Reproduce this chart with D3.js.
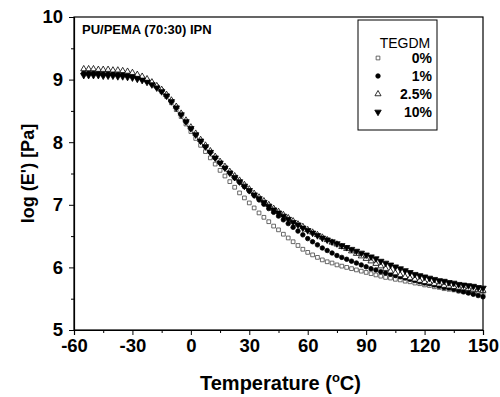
<!DOCTYPE html>
<html>
<head>
<meta charset="utf-8">
<script src="https://cdn.jsdelivr.net/npm/d3@7"></script>
<style>
  html, body { margin: 0; padding: 0; background: #fff; }
  svg { display: block; font-family: "Liberation Sans", Arial, sans-serif; }
</style>
</head>
<body>
<svg id="chart" width="500" height="397"></svg>
<script>
// Storage modulus of PU/PEMA (70:30) IPN vs temperature, for four TEGDM contents.
const temperatures = d3.range(0, 83).map(i => -55 + i * 2.5);

const seriesNames = ["0%", "1%", "2.5%", "10%"];

const logE_0 = [
  9.12, 9.12, 9.12, 9.11, 9.11, 9.11, 9.10, 9.10, 9.09, 9.08, 9.07, 9.05, 9.02, 8.98, 8.93, 8.88, 8.81, 8.73, 8.63, 8.52, 8.41, 8.29,
  8.17, 8.06, 7.95, 7.85, 7.75, 7.65, 7.55, 7.46, 7.37, 7.28, 7.19, 7.11, 7.03, 6.95, 6.87, 6.80, 6.73, 6.66, 6.60, 6.53,
  6.47, 6.41, 6.35, 6.29, 6.24, 6.20, 6.16, 6.12, 6.09, 6.07, 6.04, 6.02, 6.00, 5.98, 5.96, 5.94, 5.92, 5.90, 5.88, 5.86,
  5.84, 5.83, 5.81, 5.80, 5.78, 5.77, 5.75, 5.74, 5.72, 5.71, 5.69, 5.68, 5.66, 5.65, 5.64, 5.62, 5.61, 5.60, 5.59, 5.58, 5.57
];
const logE_1 = [
  9.10, 9.10, 9.10, 9.10, 9.09, 9.09, 9.09, 9.08, 9.08, 9.07, 9.06, 9.04, 9.01, 8.98, 8.94, 8.89, 8.83, 8.75, 8.66, 8.56, 8.45, 8.33,
  8.22, 8.12, 8.02, 7.93, 7.84, 7.75, 7.67, 7.59, 7.51, 7.43, 7.36, 7.29, 7.22, 7.15, 7.08, 7.01, 6.94, 6.88, 6.82, 6.76,
  6.70, 6.64, 6.58, 6.52, 6.46, 6.41, 6.36, 6.31, 6.27, 6.23, 6.19, 6.16, 6.13, 6.10, 6.07, 6.04, 6.01, 5.98, 5.96, 5.93,
  5.91, 5.89, 5.87, 5.85, 5.83, 5.81, 5.79, 5.77, 5.75, 5.74, 5.72, 5.70, 5.68, 5.67, 5.65, 5.63, 5.61, 5.59, 5.57, 5.55, 5.53
];
const logE_25 = [
  9.17, 9.17, 9.17, 9.16, 9.16, 9.16, 9.15, 9.15, 9.14, 9.13, 9.11, 9.08, 9.05, 9.01, 8.96, 8.90, 8.84, 8.76, 8.67, 8.57, 8.46, 8.35,
  8.24, 8.14, 8.04, 7.95, 7.86, 7.77, 7.69, 7.61, 7.53, 7.46, 7.39, 7.32, 7.25, 7.18, 7.12, 7.06, 7.00, 6.94, 6.89, 6.84,
  6.79, 6.74, 6.69, 6.65, 6.60, 6.56, 6.52, 6.48, 6.44, 6.40, 6.37, 6.33, 6.30, 6.26, 6.22, 6.18, 6.14, 6.10, 6.06, 6.02,
  5.98, 5.94, 5.91, 5.88, 5.85, 5.83, 5.81, 5.79, 5.77, 5.76, 5.74, 5.73, 5.71, 5.70, 5.69, 5.68, 5.67, 5.66, 5.65, 5.64, 5.63
];
const logE_10 = [
  9.07, 9.07, 9.07, 9.07, 9.06, 9.06, 9.06, 9.05, 9.05, 9.04, 9.03, 9.01, 8.99, 8.96, 8.92, 8.87, 8.81, 8.74, 8.65, 8.55, 8.44, 8.33,
  8.22, 8.12, 8.02, 7.93, 7.84, 7.75, 7.67, 7.59, 7.51, 7.44, 7.37, 7.30, 7.23, 7.16, 7.10, 7.04, 6.98, 6.92, 6.87, 6.82,
  6.77, 6.72, 6.68, 6.63, 6.59, 6.55, 6.51, 6.47, 6.44, 6.41, 6.38, 6.35, 6.32, 6.29, 6.26, 6.23, 6.20, 6.17, 6.14, 6.10,
  6.07, 6.04, 6.01, 5.98, 5.95, 5.92, 5.89, 5.87, 5.85, 5.83, 5.81, 5.79, 5.78, 5.76, 5.75, 5.73, 5.72, 5.71, 5.70, 5.68, 5.67
];

const xTicks = [-60, -30, 0, 30, 60, 90, 120, 150];
const yTicks = [5, 6, 7, 8, 9, 10];

const svg = d3.select("#chart");
const plotLeft = 74, plotRight = 483, plotTop = 17, plotBottom = 330;

const x = d3.scaleLinear().domain([-60, 150]).range([plotLeft, plotRight]);
const y = d3.scaleLinear().domain([5, 10]).range([plotBottom, plotTop]);

// Plain hyphen-minus for negative tick labels
const plainFormat = d => String(d);

// Frame
svg.append("rect")
  .attr("x", plotLeft).attr("y", plotTop)
  .attr("width", plotRight - plotLeft).attr("height", plotBottom - plotTop)
  .attr("fill", "none").attr("stroke", "#000").attr("stroke-width", 1.2);

// Axes with major and minor ticks
const xAxis = svg.append("g").attr("transform", `translate(0,${plotBottom})`)
  .call(d3.axisBottom(x).tickValues(xTicks).tickSize(5).tickPadding(4).tickFormat(plainFormat));
svg.append("g").attr("transform", `translate(0,${plotBottom})`)
  .call(d3.axisBottom(x).tickValues(d3.range(-45, 150, 30)).tickSize(3).tickFormat(""))
  .call(g => g.select(".domain").remove());
const yAxis = svg.append("g").attr("transform", `translate(${plotLeft},0)`)
  .call(d3.axisLeft(y).tickValues(yTicks).tickSize(5).tickPadding(6).tickFormat(plainFormat));
svg.append("g").attr("transform", `translate(${plotLeft},0)`)
  .call(d3.axisLeft(y).tickValues(d3.range(5.5, 10, 1)).tickSize(3).tickFormat(""))
  .call(g => g.select(".domain").remove());

svg.selectAll(".tick line").attr("stroke", "#000").attr("stroke-width", 1);
svg.selectAll(".domain").attr("stroke", "#000").attr("stroke-width", 1.2);
xAxis.selectAll("text").attr("font-size", 18.5).attr("font-weight", "bold").attr("fill", "#000")
  .attr("font-family", "Liberation Sans, Arial, sans-serif");
yAxis.selectAll("text").attr("font-size", 18.5).attr("font-weight", "bold").attr("fill", "#000")
  .attr("font-family", "Liberation Sans, Arial, sans-serif");

// Axis titles
svg.append("text")
  .attr("transform", `translate(34,${(plotTop + plotBottom) / 2}) rotate(-90)`)
  .attr("text-anchor", "middle")
  .attr("font-size", 18).attr("font-weight", "bold")
  .text("log (E') [Pa]");

const xt = svg.append("text")
  .attr("x", (plotLeft + plotRight) / 2 + 2).attr("y", 390)
  .attr("text-anchor", "middle")
  .attr("font-size", 20).attr("font-weight", "bold");
xt.append("tspan").text("Temperature (");
xt.append("tspan").attr("font-size", 13).attr("dy", -8).text("o");
xt.append("tspan").attr("dy", 8).text("C)");

// Sample label
svg.append("text")
  .attr("x", 82).attr("y", 34)
  .attr("font-size", 13).attr("font-weight", "bold")
  .text("PU/PEMA (70:30) IPN");

// Marker shapes
const symbolDefs = {
  "0%":   { type: d3.symbolSquare,   size: 14, fill: "none", stroke: "#444" },
  "1%":   { type: d3.symbolCircle,   size: 16, fill: "#000", stroke: "#000" },
  "2.5%": { type: d3.symbolTriangle, size: 16, fill: "#fff", stroke: "#000" },
  "10%":  { type: d3.symbolTriangle, size: 18, fill: "#000", stroke: "#000", rotate: 180 }
};

const seriesValues = { "0%": logE_0, "1%": logE_1, "2.5%": logE_25, "10%": logE_10 };

function drawMarker(g, name) {
  const s = symbolDefs[name];
  return g.append("path")
    .attr("d", d3.symbol().type(s.type).size(s.size)())
    .attr("fill", s.fill)
    .attr("stroke", s.stroke)
    .attr("stroke-width", 0.8);
}

// Draw order: squares first, then circles, triangles, inverted triangles
seriesNames.forEach(name => {
  const g = svg.append("g");
  const vals = seriesValues[name];
  const rot = symbolDefs[name].rotate ? ` rotate(${symbolDefs[name].rotate})` : "";
  temperatures.forEach((t, i) => {
    drawMarker(g, name).attr("transform", `translate(${x(t)},${y(vals[i])})${rot}`);
  });
});

// Legend
const lg = svg.append("g");
lg.append("rect")
  .attr("x", 358).attr("y", 20).attr("width", 79).attr("height", 110)
  .attr("fill", "#fff").attr("stroke", "#000").attr("stroke-width", 1);
lg.append("text")
  .attr("x", 405).attr("y", 48).attr("text-anchor", "middle")
  .attr("font-size", 14)
  .text("TEGDM");
const rowY = [63, 81, 99, 117];
seriesNames.forEach((name, i) => {
  const rot = symbolDefs[name].rotate ? ` rotate(${symbolDefs[name].rotate})` : "";
  drawMarker(lg, name).attr("transform", `translate(378,${rowY[i] - 5})${rot}`);
  lg.append("text")
    .attr("x", 432).attr("y", rowY[i]).attr("text-anchor", "end")
    .attr("font-size", 14).attr("font-weight", "bold")
    .text(name);
});
</script>
</body>
</html>
